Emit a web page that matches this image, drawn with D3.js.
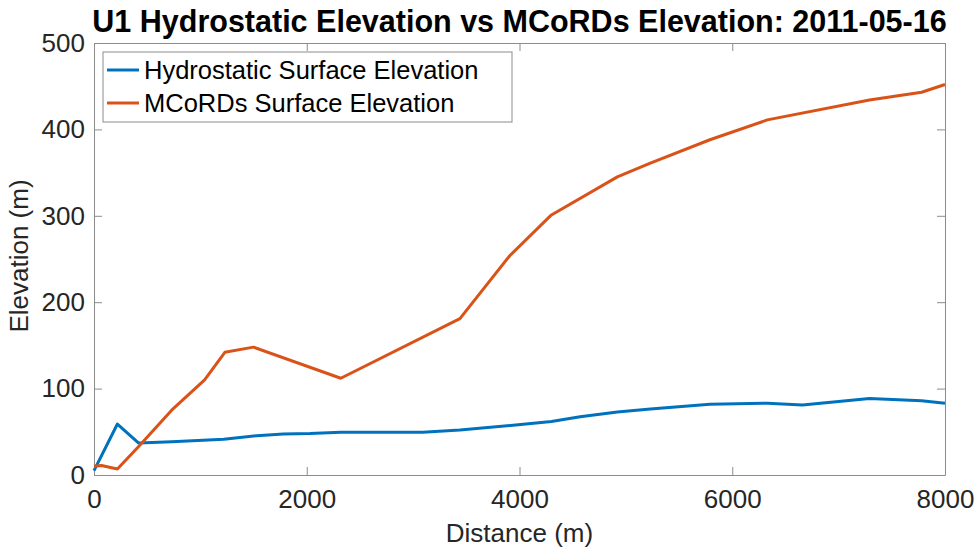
<!DOCTYPE html>
<html>
<head>
<meta charset="utf-8">
<script src="https://cdn.jsdelivr.net/npm/d3@7/dist/d3.min.js"></script>
<style>
  html, body { margin: 0; padding: 0; background: #fff; }
  svg { display: block; font-family: "Liberation Sans", Arial, Helvetica, sans-serif; }
</style>
</head>
<body>
<svg id="chart" width="979" height="550"></svg>
<script>
// Hydrostatic surface elevation along the U1 profile
const hydroDistance = [0, 220, 420, 730, 1220, 1530, 1780, 2030, 2320, 3090, 3440, 3940, 4300, 4570, 4920, 5230, 5790, 6330, 6660, 7290, 7780, 8000];
const hydroElevation = [5, 59, 37, 38.5, 41.5, 45.5, 47.5, 48, 49.5, 49.5, 52, 57.5, 62, 67.5, 73, 76.5, 82, 83, 81, 88.5, 86, 83];

// MCoRDs surface elevation along the same profile
const mcordsDistance = [0, 70, 220, 420, 730, 1040, 1230, 1500, 2320, 3440, 3910, 4300, 4920, 5230, 5790, 6330, 7290, 7780, 8000];
const mcordsElevation = [10, 11, 7, 33, 75, 110, 142, 148, 112, 181, 254, 301, 345, 361, 388, 411, 434, 443, 452];

const xTicks = [0, 2000, 4000, 6000, 8000];
const yTicks = [0, 100, 200, 300, 400, 500];

const seriesNames = ["Hydrostatic Surface Elevation", "MCoRDs Surface Elevation"];
const seriesColors = ["#0072BD", "#D95319"];

const titleText = "U1 Hydrostatic Elevation vs MCoRDs Elevation: 2011-05-16";
const xLabel = "Distance (m)";
const yLabel = "Elevation (m)";

const svg = d3.select("#chart");
const plot = { left: 94, right: 945, top: 43, bottom: 475 };
const axisColor = "#8c8c8c";
const textColor = "#262626";
const fontStack = "'Liberation Sans', Arial, Helvetica, sans-serif";

const x = d3.scaleLinear().domain([0, 8000]).range([plot.left, plot.right]);
const y = d3.scaleLinear().domain([0, 500]).range([plot.bottom, plot.top]);

// Axis box with inward ticks on every side
const tickLen = 8;
const boxG = svg.append("g");
boxG.append("g").attr("transform", `translate(0,${plot.bottom})`)
  .call(d3.axisBottom(x).tickValues(xTicks).tickSizeInner(-tickLen).tickSizeOuter(0).tickPadding(15).tickFormat(d3.format("d")));
boxG.append("g").attr("transform", `translate(0,${plot.top})`)
  .call(d3.axisTop(x).tickValues(xTicks).tickSizeInner(-tickLen).tickSizeOuter(0).tickFormat(""));
boxG.append("g").attr("transform", `translate(${plot.left},0)`)
  .call(d3.axisLeft(y).tickValues(yTicks).tickSizeInner(-tickLen).tickSizeOuter(0).tickPadding(9).tickFormat(d3.format("d")));
boxG.append("g").attr("transform", `translate(${plot.right},0)`)
  .call(d3.axisRight(y).tickValues(yTicks).tickSizeInner(-tickLen).tickSizeOuter(0).tickFormat(""));

boxG.selectAll(".domain").attr("stroke", axisColor).attr("stroke-width", 1);
boxG.selectAll(".tick line").attr("stroke", axisColor).attr("stroke-width", 1);
boxG.selectAll(".tick text").attr("fill", textColor).style("font-size", "26px")
  .style("font-family", fontStack);

// Series lines
const line = d3.line().x(d => x(d[0])).y(d => y(d[1]));
const series = [
  d3.zip(hydroDistance, hydroElevation),
  d3.zip(mcordsDistance, mcordsElevation)
];
series.forEach((pts, i) => {
  svg.append("path")
    .datum(pts)
    .attr("d", line)
    .attr("fill", "none")
    .attr("stroke", seriesColors[i])
    .attr("stroke-width", 3)
    .attr("stroke-linejoin", "round");
});

// Title centred over the axes, axis labels
svg.append("text")
  .attr("x", (plot.left + plot.right) / 2)
  .attr("y", 32)
  .attr("text-anchor", "middle")
  .attr("fill", "#000")
  .style("font-size", "30.5px")
  .style("font-weight", "bold")
  .text(titleText);

svg.append("text")
  .attr("x", (plot.left + plot.right) / 2)
  .attr("y", 542)
  .attr("text-anchor", "middle")
  .attr("fill", textColor)
  .style("font-size", "26px")
  .text(xLabel);

svg.append("text")
  .attr("transform", `translate(28,${(plot.top + plot.bottom) / 2 - 3}) rotate(-90)`)
  .attr("text-anchor", "middle")
  .attr("fill", textColor)
  .style("font-size", "26px")
  .text(yLabel);

// Legend
const legend = svg.append("g");
legend.append("rect")
  .attr("x", 103).attr("y", 52).attr("width", 409).attr("height", 70)
  .attr("fill", "#fff").attr("stroke", axisColor).attr("stroke-width", 1);
seriesNames.forEach((name, i) => {
  const ly = 70 + i * 33;
  legend.append("line")
    .attr("x1", 107).attr("x2", 139).attr("y1", ly).attr("y2", ly)
    .attr("stroke", seriesColors[i]).attr("stroke-width", 3);
  legend.append("text")
    .attr("x", 144).attr("y", ly + 8.5)
    .attr("fill", "#000")
    .style("font-size", "25.5px")
    .text(name);
});
</script>
</body>
</html>
